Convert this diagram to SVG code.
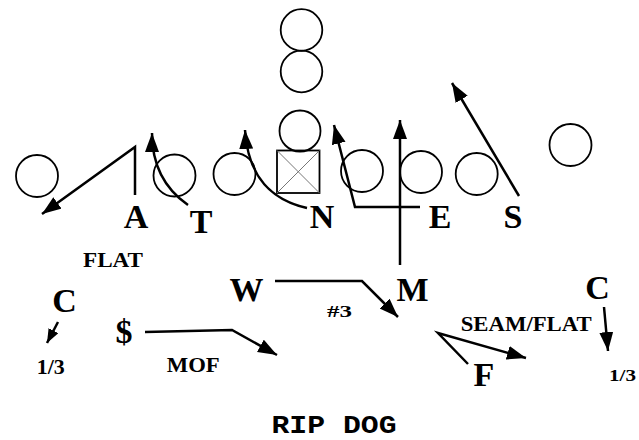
<svg xmlns="http://www.w3.org/2000/svg" width="639" height="440" viewBox="0 0 639 440">
  <style>
    .player { fill: none; stroke: #000; stroke-width: 1.8; }
    .route { fill: none; stroke: #000; stroke-width: 2.5; stroke-linejoin: miter; }
    .big { font-family: "Liberation Serif", "Times New Roman", serif; font-weight: bold; font-size: 34px; fill: #000; text-anchor: middle; }
    .small { font-family: "Liberation Serif", "Times New Roman", serif; font-weight: bold; fill: #000; }
    .title { font-family: "Liberation Mono", "Courier New", monospace; font-weight: bold; font-size: 25px; fill: #000; }
  </style>
  <defs>
    <marker id="head" markerUnits="userSpaceOnUse" markerWidth="21" markerHeight="15" refX="19" refY="7" orient="auto">
      <path d="M0,0 L19,7 L0,14 z" fill="#000"/>
    </marker>
    <marker id="headSmall" markerUnits="userSpaceOnUse" markerWidth="16" markerHeight="12" refX="14" refY="5.5" orient="auto">
      <path d="M0,0 L14,5.5 L0,11 z" fill="#000"/>
    </marker>
  </defs>
  <rect width="639" height="440" fill="#fff"/>

  <!-- offensive formation -->
  <g id="offense">
    <circle id="wr-left" class="player" cx="37" cy="176" r="21"/>
    <circle id="tackle-left" class="player" cx="174.5" cy="175.5" r="21"/>
    <circle id="guard-left" class="player" cx="234.5" cy="174" r="21"/>
    <g id="center">
      <rect class="player" x="277" y="150.5" width="42.5" height="42.5" stroke-width="2"/>
      <path d="M277,150.5 L319.5,193 M319.5,150.5 L277,193" stroke="#777" stroke-width="1" fill="none"/>
    </g>
    <circle id="qb" class="player" cx="300" cy="131" r="20.5"/>
    <circle id="back-1" class="player" cx="301.5" cy="71.5" r="20.8"/>
    <circle id="back-2" class="player" cx="301.5" cy="30" r="20.8"/>
    <circle id="guard-right" class="player" cx="362" cy="171" r="21"/>
    <circle id="tackle-right" class="player" cx="421" cy="172" r="21"/>
    <circle id="tight-end" class="player" cx="476.7" cy="174" r="21"/>
    <circle id="wr-right" class="player" cx="570.5" cy="145" r="21"/>
  </g>

  <!-- defensive assignments -->
  <g id="routes">
    <path id="route-A" class="route" d="M135,195 L135,147 L42,214" marker-end="url(#head)"/>
    <path id="route-T" class="route" d="M188,205 Q152,180 152,133" marker-end="url(#head)"/>
    <path id="route-N" class="route" d="M307,208 C272,200 248,178 245,130" marker-end="url(#head)"/>
    <path id="route-E" class="route" d="M420,207 L355,207 L334,125" marker-end="url(#head)"/>
    <path id="route-M" class="route" d="M400,265 L400,120" marker-end="url(#head)"/>
    <path id="route-S" class="route" d="M519,196 L452,83" marker-end="url(#head)"/>
    <path id="route-W" class="route" d="M275,281 L362,281 L398,317" marker-end="url(#head)"/>
    <path id="route-safety" class="route" d="M145,332 L232,330 L277,355" marker-end="url(#head)"/>
    <path id="route-C-left" class="route" d="M58,322 L47,343" marker-end="url(#headSmall)"/>
    <path id="route-C-right" class="route" d="M604,307 L608,351" marker-end="url(#head)"/>
    <path id="route-F" class="route" d="M468,364 L438,333 L526,358" marker-end="url(#head)"/>
  </g>

  <!-- defender labels -->
  <g id="defender-A"><text class="big" x="136" y="228">A</text></g>
  <g id="defender-T"><text class="big" x="201" y="233">T</text></g>
  <g id="defender-N"><text class="big" x="322" y="228">N</text></g>
  <g id="defender-E"><text class="big" x="440" y="228">E</text></g>
  <g id="defender-S"><text class="big" x="513" y="228">S</text></g>
  <g id="defender-W"><text class="big" x="246.5" y="301">W</text></g>
  <g id="defender-M"><text class="big" x="412.5" y="301">M</text></g>
  <g id="defender-C-left"><text class="big" x="64.5" y="312">C</text></g>
  <g id="defender-safety"><text class="big" x="124" y="343" font-weight="normal" font-size="30">$</text></g>
  <g id="defender-C-right"><text class="big" x="597.5" y="299">C</text></g>
  <g id="defender-F"><text class="big" x="484" y="386">F</text></g>

  <!-- coverage notes -->
  <g id="notes">
    <text class="small" x="83" y="266.5" font-size="21" textLength="60" lengthAdjust="spacingAndGlyphs">FLAT</text>
    <text class="small" x="166.7" y="372" font-size="22" textLength="53" lengthAdjust="spacingAndGlyphs">MOF</text>
    <text class="small" x="460.7" y="331" font-size="21" textLength="131" lengthAdjust="spacingAndGlyphs">SEAM/FLAT</text>
    <text class="small" x="36.7" y="374" font-size="20" textLength="28" lengthAdjust="spacingAndGlyphs">1/3</text>
    <text class="small" x="327" y="317" font-size="16" textLength="25" lengthAdjust="spacingAndGlyphs">#3</text>
    <text class="small" x="609" y="381" font-size="17" textLength="27" lengthAdjust="spacingAndGlyphs">1/3</text>
  </g>

  <text id="play-name" class="title" x="271.5" y="432.5" textLength="125" lengthAdjust="spacingAndGlyphs">RIP DOG</text>
</svg>
